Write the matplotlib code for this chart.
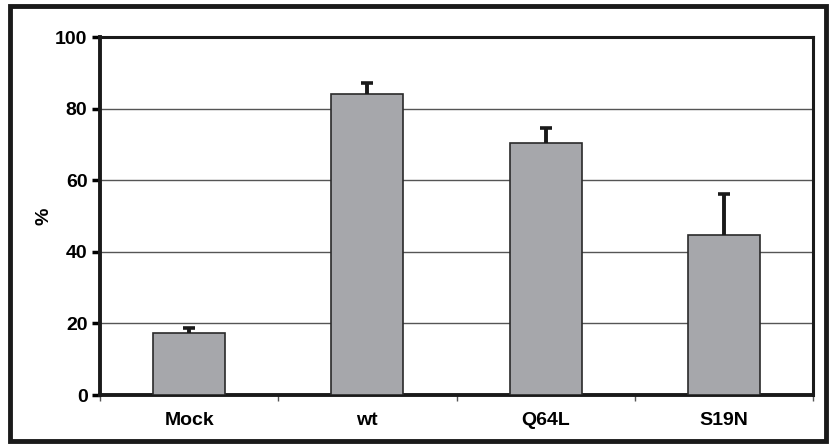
import matplotlib.pyplot as plt
import numpy as np
from matplotlib.patches import Rectangle

plt.rcParams['font.family'] = ['Liberation Sans', 'DejaVu Sans']
plt.rcParams['font.weight'] = 'bold'

categories = ['Mock', 'wt', 'Q64L', 'S19N']
values = [17.2, 84.1, 70.4, 44.7]
errors = [1.5, 3.1, 4.2, 11.4]

fig = plt.figure(figsize=(8.31, 4.48), dpi=100)
ax = fig.add_axes([100/831, 1 - 395/448, 713/831, 358/448])

x = np.arange(len(categories))
ax.bar(x, values, width=0.405, color='#a6a7ab', edgecolor='#2a2a2a', linewidth=1.2, zorder=3)

# upper error bars only (no lower cap)
tops = np.array(values) + np.array(errors)
ax.vlines(x, values, tops, color='#1a1a1a', linewidth=2.8, zorder=4)
ax.hlines(tops, x - 0.034, x + 0.034, color='#1a1a1a', linewidth=2.6, zorder=4)

ax.set_xlim(-0.5, len(categories) - 0.5)
ax.set_ylim(0, 100)
ax.set_yticks([0, 20, 40, 60, 80, 100])
ax.yaxis.grid(True, color='#555555', linewidth=1.0, zorder=0)
ax.set_axisbelow(True)

ax.set_xticks(x)
ax.set_xticklabels(categories, fontsize=14, fontweight='bold')
ax.set_xticks(np.arange(len(categories) + 1) - 0.5, minor=True)
ax.tick_params(axis='x', which='major', length=0, pad=12)
ax.tick_params(axis='x', which='minor', length=4, width=1, direction='out', color='#555555')
ax.tick_params(axis='y', length=6, width=2.5, direction='out', labelsize=14, pad=3)
for lab in ax.get_yticklabels():
    lab.set_fontweight('bold')

ax.spines['left'].set_linewidth(2.8)
ax.spines['bottom'].set_linewidth(2.8)
ax.spines['top'].set_linewidth(2.2)
ax.spines['right'].set_linewidth(2.2)
for s in ax.spines.values():
    s.set_color('#1a1a1a')

ax.set_ylabel('%', fontsize=14, fontweight='bold', labelpad=2)

fig.patches.append(Rectangle((10/831, 7/448), 816/831, 435/448, transform=fig.transFigure,
                             fill=False, edgecolor='#1a1a1a', linewidth=3.5))

fig.savefig('out.png', dpi=100)
